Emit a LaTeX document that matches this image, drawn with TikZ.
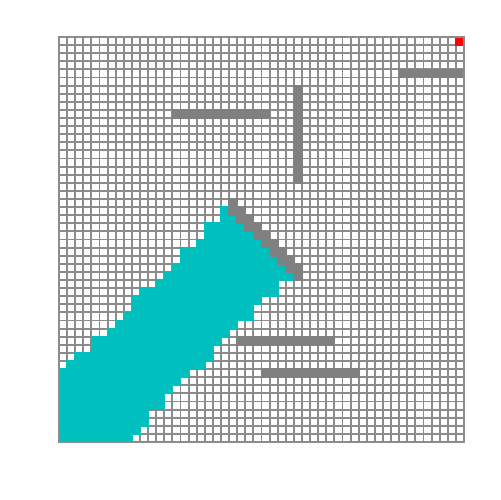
\documentclass[tikz,border=0pt]{standalone}
\definecolor{pathteal}{RGB}{0,191,191}
\definecolor{wallgray}{RGB}{128,128,128}
\definecolor{gridgray}{RGB}{140,140,140}
\newcommand\bleed{0.1}
\begin{document}
\begin{tikzpicture}[x=0.162cm, y=0.162cm,
  gridline/.style={draw=gridgray, line width=1.1pt},
  teal cell/.style={fill=pathteal},
  wall cell/.style={fill=wallgray}]
  \useasboundingbox (-7.284,-7.160) rectangle (54.444,54.568);
  \draw[gridline, step={(1,1)}] (0,0) grid (50,50);
  % explored cells, row/first/last
  \foreach \j/\a/\b in {28/20/20, 27/20/21, 26/18/22, 25/18/23, 24/17/24,
      23/15/25, 22/15/26, 21/14/27, 20/13/28, 19/12/26, 18/10/26, 17/9/24,
      16/9/23, 15/8/23, 14/7/21, 13/6/20, 12/4/19, 11/4/18, 10/2/18, 9/1/17,
      8/0/15, 7/0/14, 6/0/13, 5/0/12, 4/0/12, 3/0/10, 2/0/10, 1/0/9, 0/0/8}
    \fill[teal cell] (\a-\bleed,\j-\bleed) rectangle (\b+1+\bleed,\j+1+\bleed);
  % walls
  \fill[wall cell] (42-\bleed,45-\bleed) rectangle (50+\bleed,46+\bleed);
  \fill[wall cell] (14-\bleed,40-\bleed) rectangle (26+\bleed,41+\bleed);
  \fill[wall cell] (29-\bleed,32-\bleed) rectangle (30+\bleed,44+\bleed);
  \fill[wall cell] (22-\bleed,12-\bleed) rectangle (34+\bleed,13+\bleed);
  \fill[wall cell] (25-\bleed,8-\bleed) rectangle (37+\bleed,9+\bleed);
  \fill[wall cell] (21-\bleed,29-\bleed) rectangle (22+\bleed,30+\bleed);
  \foreach \j in {21,...,28}
    \fill[wall cell] ({49-\j-\bleed},\j-\bleed) rectangle ({51-\j+\bleed},\j+1+\bleed);
  \fill[wall cell] (29-\bleed,20-\bleed) rectangle (30+\bleed,21+\bleed);
  % goal
  \fill[red] (49-\bleed,49-\bleed) rectangle (50+\bleed,50+\bleed);
  \draw[gridline] (0,0) rectangle (50,50);
\end{tikzpicture}
\end{document}
